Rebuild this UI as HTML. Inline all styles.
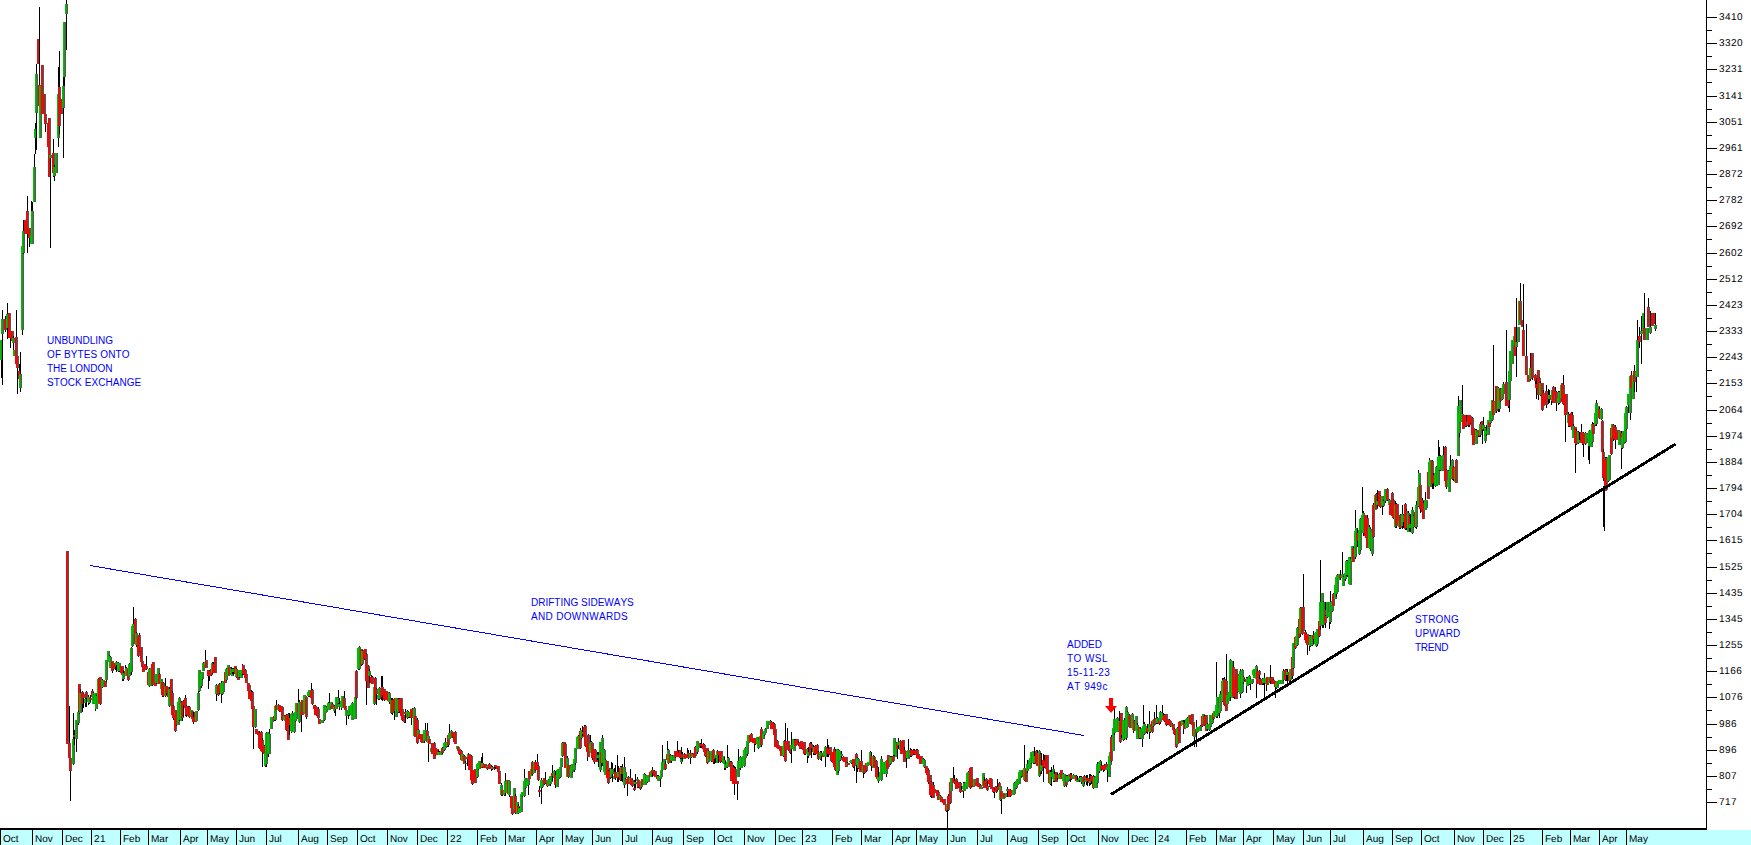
<!DOCTYPE html>
<html><head><meta charset="utf-8"><title>Chart</title>
<style>
html,body{margin:0;padding:0;background:#fff;overflow:hidden}
svg{display:block}
text{font-family:"Liberation Sans",sans-serif;font-size:10px}
.ax text{fill:#000;text-rendering:geometricPrecision}
.lb text{fill:#00f;font-kerning:none}
</style></head><body>
<svg width="1751" height="845" viewBox="0 0 1751 845">
<rect width="1751" height="845" fill="#fff"/>
<rect x="0" y="830" width="1751" height="15" fill="#c0ffff"/>
<g shape-rendering="crispEdges" fill="none" stroke-width="1">
<path stroke="#000" d="M1.5 360v18M2.5 310v9M2.5 334v51M5.5 316v3M5.5 330v2M7.5 303v11M7.5 328v11M10.5 338v10M13.5 336v2M13.5 343v7M16.5 310v27M17.5 368v26M19.5 364v7M20.5 352v22M20.5 388v4M22.5 330v5M23.5 220v11M23.5 253v1M27.5 196v15M27.5 234v19M29.5 238v9M31.5 201v10M32.5 202v9M34.5 154v13M35.5 123v6M35.5 138v16M36.5 64v10M36.5 113v37M39.5 7v78M45.5 124v8M50.5 158v90M53.5 139v14M53.5 176v1M54.5 165v2M54.5 176v5M58.5 67v20M58.5 138v9M59.5 51v36M59.5 126v8M63.5 77v9M63.5 108v50M64.5 77v9M66.5 0v4M66.5 14v36M69.5 706v37M70.5 771v30M73.5 713v22M73.5 737v2M73.5 764v1M74.5 730v5M74.5 737v8M76.5 739v13M78.5 711v1M78.5 723v2M79.5 713v1M80.5 689v4M82.5 691v1M82.5 704v8M83.5 693v1M83.5 698v10M85.5 698v1M85.5 703v4M86.5 691v1M86.5 698v9M88.5 695v2M88.5 703v2M89.5 703v1M90.5 695v3M90.5 700v2M92.5 689v2M93.5 692v1M95.5 709v2M96.5 695v1M98.5 678v1M100.5 704v1M102.5 679v1M102.5 687v1M106.5 680v2M109.5 655v1M110.5 656v1M112.5 671v2M113.5 669v1M115.5 667v3M116.5 661v1M116.5 665v7M118.5 662v1M118.5 671v1M119.5 671v1M122.5 679v2M123.5 670v3M123.5 679v2M125.5 665v3M126.5 667v1M128.5 680v1M129.5 663v1M131.5 647v1M131.5 672v3M132.5 646v1M133.5 607v17M135.5 618v1M136.5 632v1M136.5 645v2M138.5 656v1M139.5 633v2M139.5 651v1M146.5 656v10M146.5 669v1M149.5 668v1M149.5 686v1M152.5 685v1M156.5 683v1M159.5 673v1M162.5 696v1M163.5 682v1M163.5 696v1M165.5 678v8M165.5 696v1M166.5 693v2M169.5 687v2M169.5 706v1M172.5 691v2M173.5 705v1M173.5 718v2M175.5 731v1M176.5 725v1M179.5 697v1M179.5 720v1M181.5 701v1M182.5 718v3M183.5 700v1M183.5 705v12M185.5 695v3M185.5 715v1M186.5 705v1M186.5 715v2M188.5 706v1M189.5 706v1M189.5 717v1M193.5 712v5M193.5 722v2M198.5 691v2M198.5 710v1M199.5 691v1M201.5 686v2M202.5 679v1M203.5 662v1M205.5 650v10M208.5 676v13M209.5 670v1M209.5 676v5M211.5 675v1M212.5 662v1M212.5 673v1M213.5 662v2M216.5 684v1M216.5 694v7M218.5 695v1M219.5 683v1M219.5 693v1M221.5 681v2M221.5 694v9M222.5 694v1M226.5 668v1M226.5 680v1M231.5 667v2M232.5 668v1M232.5 672v2M233.5 668v1M233.5 672v3M236.5 668v1M236.5 677v1M239.5 677v1M242.5 664v1M242.5 674v1M243.5 674v1M245.5 669v1M251.5 690v2M252.5 691v1M253.5 727v22M255.5 727v1M259.5 731v2M259.5 748v1M261.5 731v1M262.5 738v2M262.5 752v15M264.5 745v1M265.5 766v1M266.5 732v1M266.5 764v3M268.5 754v3M269.5 729v5M274.5 720v1M275.5 720v1M276.5 700v5M278.5 704v1M279.5 711v1M282.5 720v1M284.5 715v1M286.5 714v1M286.5 730v1M288.5 713v1M289.5 713v5M289.5 725v10M291.5 732v1M292.5 711v2M294.5 732v1M295.5 721v1M298.5 689v13M299.5 700v2M299.5 722v1M301.5 715v17M306.5 717v2M308.5 696v1M309.5 696v1M311.5 683v7M312.5 689v1M312.5 704v1M315.5 705v1M316.5 715v1M318.5 707v2M318.5 718v1M324.5 720v1M326.5 706v1M328.5 702v1M329.5 693v10M332.5 703v1M334.5 705v1M334.5 711v2M335.5 709v7M338.5 690v8M338.5 703v1M339.5 698v6M339.5 707v3M341.5 708v2M344.5 691v7M346.5 716v9M348.5 715v4M349.5 715v1M352.5 702v1M356.5 670v1M356.5 698v1M358.5 669v1M359.5 646v1M359.5 669v1M361.5 665v1M362.5 650v1M362.5 664v1M364.5 659v1M366.5 653v1M366.5 681v24M368.5 665v1M369.5 669v2M369.5 676v7M371.5 675v2M372.5 676v1M374.5 704v1M375.5 677v1M376.5 688v1M376.5 694v11M378.5 699v1M379.5 687v1M379.5 699v1M381.5 676v11M381.5 697v3M382.5 676v11M382.5 695v6M384.5 700v1M389.5 692v1M389.5 702v2M391.5 698v2M391.5 713v1M392.5 698v2M392.5 713v2M394.5 711v9M398.5 698v1M398.5 712v1M399.5 698v1M399.5 711v2M402.5 720v1M404.5 722v1M405.5 709v3M405.5 714v9M407.5 710v1M407.5 718v1M408.5 711v1M408.5 717v1M409.5 717v1M411.5 718v7M412.5 708v1M414.5 707v1M417.5 718v2M417.5 743v1M418.5 729v1M419.5 738v1M424.5 741v2M425.5 723v7M427.5 723v8M428.5 744v18M434.5 742v1M435.5 755v1M438.5 750v2M439.5 751v1M442.5 747v1M442.5 753v1M444.5 750v1M445.5 738v4M447.5 746v1M448.5 745v2M449.5 724v9M451.5 730v1M452.5 737v1M455.5 731v1M459.5 754v1M461.5 750v1M464.5 755v1M465.5 761v2M465.5 764v6M467.5 759v7M468.5 753v1M471.5 755v1M472.5 784v1M477.5 777v1M478.5 769v1M481.5 757v6M482.5 753v10M482.5 767v1M487.5 769v1M489.5 763v1M491.5 765v1M491.5 769v2M492.5 766v1M492.5 769v1M494.5 767v1M494.5 769v1M495.5 767v2M501.5 783v2M501.5 795v1M502.5 795v1M504.5 795v1M505.5 773v8M505.5 793v3M509.5 795v2M512.5 814v1M515.5 794v2M515.5 813v1M518.5 804v2M518.5 813v1M519.5 807v1M522.5 796v1M524.5 769v9M524.5 796v1M525.5 788v1M528.5 785v10M532.5 761v1M532.5 774v1M535.5 760v2M535.5 770v1M537.5 754v8M538.5 765v1M538.5 780v1M539.5 786v4M539.5 792v5M541.5 778v2M541.5 788v16M542.5 787v1M544.5 784v1M545.5 772v8M545.5 783v1M547.5 786v1M548.5 779v1M550.5 784v2M552.5 765v8M552.5 776v5M554.5 770v1M555.5 771v4M555.5 785v3M560.5 777v1M562.5 742v1M562.5 756v1M565.5 743v1M567.5 756v2M568.5 777v1M570.5 765v1M572.5 772v1M574.5 770v2M575.5 763v2M578.5 735v1M580.5 728v2M580.5 748v1M581.5 738v1M582.5 726v6M582.5 734v2M584.5 725v1M585.5 725v1M585.5 746v1M587.5 757v4M588.5 734v1M590.5 735v7M591.5 741v1M592.5 758v2M594.5 762v2M595.5 749v1M597.5 752v3M597.5 758v2M598.5 752v3M598.5 758v9M600.5 770v2M601.5 763v4M602.5 735v3M602.5 763v3M604.5 749v1M605.5 759v1M608.5 770v1M608.5 783v1M610.5 778v1M611.5 762v7M611.5 777v1M612.5 763v6M612.5 774v8M614.5 768v4M615.5 765v7M615.5 778v2M617.5 755v17M617.5 778v4M618.5 766v6M618.5 777v5M620.5 766v1M620.5 780v1M621.5 766v1M621.5 774v7M622.5 764v3M622.5 774v8M624.5 757v10M624.5 785v3M625.5 778v1M627.5 784v12M628.5 776v1M630.5 769v9M632.5 779v1M632.5 786v1M634.5 780v2M634.5 784v4M634.5 790v1M635.5 774v8M635.5 784v4M637.5 777v2M637.5 787v1M638.5 787v1M640.5 789v1M641.5 787v1M644.5 773v1M645.5 774v1M647.5 782v1M652.5 767v3M652.5 773v4M654.5 770v1M657.5 775v1M658.5 775v1M660.5 779v8M662.5 745v17M665.5 761v3M665.5 769v1M667.5 741v9M668.5 749v1M668.5 763v1M670.5 754v1M671.5 761v2M672.5 755v1M675.5 757v1M677.5 741v10M678.5 750v3M680.5 758v1M681.5 747v7M681.5 758v1M681.5 762v2M682.5 752v2M682.5 758v3M684.5 753v1M687.5 748v5M688.5 750v3M688.5 758v1M690.5 750v3M690.5 758v6M691.5 757v1M692.5 753v1M695.5 746v1M697.5 752v2M700.5 743v1M700.5 746v2M701.5 739v5M701.5 746v2M703.5 743v1M704.5 744v1M705.5 756v1M707.5 763v1M708.5 750v1M711.5 761v1M713.5 749v1M713.5 762v2M714.5 759v5M715.5 758v5M717.5 750v1M718.5 755v8M720.5 762v1M721.5 761v1M724.5 757v3M724.5 768v2M725.5 761v3M725.5 768v2M727.5 745v13M727.5 767v1M728.5 757v1M730.5 761v1M731.5 761v1M733.5 765v2M734.5 766v2M734.5 784v11M735.5 767v2M737.5 784v16M738.5 749v12M740.5 756v1M740.5 768v2M744.5 766v1M745.5 747v1M747.5 754v2M751.5 733v1M754.5 744v8M755.5 744v1M758.5 738v1M758.5 748v1M761.5 727v2M761.5 745v2M764.5 735v1M765.5 728v1M770.5 720v1M771.5 721v1M773.5 722v1M774.5 723v1M777.5 740v1M783.5 756v1M784.5 740v1M785.5 723v18M785.5 761v1M787.5 728v13M788.5 750v1M790.5 753v1M791.5 732v13M791.5 749v14M794.5 739v1M795.5 739v1M798.5 741v2M798.5 745v1M801.5 748v1M804.5 754v1M805.5 754v1M807.5 748v1M807.5 756v7M808.5 747v5M808.5 756v2M810.5 742v1M811.5 742v2M811.5 748v10M813.5 745v2M813.5 753v2M814.5 754v1M815.5 745v1M815.5 754v1M817.5 744v1M818.5 751v1M818.5 759v1M820.5 751v1M820.5 759v1M821.5 751v2M821.5 756v5M825.5 746v1M825.5 757v10M827.5 739v9M827.5 754v3M828.5 745v4M828.5 754v3M831.5 761v1M834.5 747v2M835.5 749v2M835.5 770v1M838.5 749v1M838.5 771v2M840.5 760v1M841.5 751v3M841.5 756v2M843.5 756v1M847.5 762v1M851.5 763v1M853.5 767v1M854.5 766v5M856.5 753v1M856.5 765v18M857.5 757v1M857.5 768v4M858.5 758v1M858.5 768v1M861.5 750v11M863.5 773v5M864.5 773v1M866.5 771v1M870.5 751v1M871.5 752v4M871.5 766v5M873.5 755v1M874.5 756v1M876.5 760v1M877.5 766v1M878.5 767v10M878.5 781v2M881.5 756v3M881.5 780v1M886.5 774v3M890.5 756v1M890.5 764v1M891.5 756v1M893.5 755v1M893.5 761v1M894.5 755v1M896.5 742v1M897.5 749v10M898.5 738v4M898.5 745v4M900.5 740v1M904.5 747v3M906.5 758v10M908.5 739v11M910.5 748v2M910.5 756v1M911.5 749v1M911.5 756v1M913.5 749v1M913.5 754v1M914.5 749v2M914.5 754v1M916.5 749v1M917.5 749v1M923.5 758v1M924.5 759v1M924.5 767v1M928.5 769v1M928.5 782v2M930.5 796v1M931.5 781v1M931.5 796v2M933.5 782v3M938.5 791v1M940.5 795v1M946.5 811v1M947.5 810v18M948.5 794v2M948.5 810v1M950.5 803v1M953.5 767v11M954.5 775v6M954.5 783v1M956.5 778v1M957.5 781v1M958.5 787v1M960.5 782v1M960.5 792v1M961.5 786v4M963.5 782v1M963.5 791v7M964.5 782v1M968.5 771v1M970.5 788v1M971.5 786v1M980.5 784v1M984.5 777v4M986.5 778v1M987.5 781v5M987.5 790v1M989.5 786v1M993.5 792v1M994.5 788v2M994.5 792v6M996.5 792v1M997.5 779v8M997.5 790v1M999.5 782v1M1000.5 800v1M1001.5 799v15M1007.5 787v2M1007.5 791v6M1010.5 789v1M1010.5 796v1M1014.5 782v1M1016.5 788v1M1021.5 776v1M1024.5 745v23M1024.5 780v1M1027.5 760v4M1027.5 771v2M1031.5 763v1M1033.5 763v1M1034.5 747v9M1034.5 763v1M1036.5 750v1M1037.5 750v3M1039.5 750v1M1039.5 776v1M1040.5 753v1M1040.5 773v1M1041.5 753v12M1041.5 771v3M1043.5 754v6M1043.5 767v15M1044.5 755v6M1044.5 767v1M1050.5 770v2M1050.5 784v1M1051.5 767v5M1051.5 777v9M1053.5 765v4M1053.5 781v1M1054.5 771v3M1054.5 781v1M1057.5 773v2M1057.5 778v2M1059.5 773v1M1063.5 773v1M1064.5 786v1M1066.5 775v1M1066.5 785v2M1067.5 775v1M1069.5 780v1M1070.5 773v1M1070.5 779v3M1071.5 773v2M1071.5 779v1M1073.5 774v1M1076.5 775v1M1077.5 776v4M1079.5 776v2M1079.5 780v2M1080.5 776v1M1081.5 776v1M1081.5 782v2M1083.5 786v1M1084.5 775v1M1084.5 782v2M1086.5 775v3M1086.5 782v3M1087.5 775v3M1087.5 781v5M1089.5 774v5M1089.5 783v3M1090.5 774v2M1090.5 783v2M1091.5 775v1M1091.5 781v3M1093.5 775v1M1093.5 788v1M1094.5 776v1M1097.5 762v2M1097.5 783v1M1099.5 771v2M1100.5 760v1M1101.5 762v4M1101.5 769v1M1103.5 770v2M1104.5 764v1M1104.5 770v1M1106.5 762v2M1107.5 770v12M1111.5 735v2M1111.5 761v1M1114.5 707v12M1114.5 733v2M1117.5 717v1M1119.5 711v10M1120.5 742v1M1121.5 735v3M1123.5 740v1M1124.5 718v2M1124.5 739v1M1126.5 706v1M1126.5 738v2M1127.5 711v1M1129.5 714v1M1132.5 713v1M1133.5 731v2M1134.5 720v1M1137.5 723v2M1139.5 738v1M1140.5 727v2M1140.5 738v1M1142.5 739v8M1143.5 705v19M1144.5 722v2M1144.5 734v1M1146.5 732v1M1147.5 724v4M1147.5 732v2M1149.5 711v13M1149.5 732v7M1150.5 732v1M1152.5 732v1M1153.5 726v1M1154.5 712v7M1156.5 705v13M1156.5 723v1M1157.5 717v1M1157.5 723v1M1159.5 724v1M1160.5 711v1M1160.5 722v2M1162.5 705v8M1163.5 713v2M1164.5 714v1M1164.5 721v1M1166.5 725v1M1167.5 724v1M1169.5 719v1M1170.5 726v1M1172.5 723v1M1174.5 728v1M1174.5 734v1M1176.5 747v1M1177.5 727v1M1183.5 720v2M1183.5 729v5M1184.5 720v3M1187.5 717v1M1190.5 723v1M1194.5 737v10M1196.5 720v7M1196.5 733v14M1200.5 725v1M1202.5 726v1M1204.5 715v1M1204.5 725v1M1207.5 723v1M1207.5 729v2M1209.5 730v1M1212.5 723v1M1213.5 719v1M1216.5 662v35M1216.5 717v1M1217.5 716v2M1219.5 713v5M1220.5 691v3M1222.5 678v2M1222.5 701v1M1223.5 678v1M1224.5 677v2M1224.5 705v1M1226.5 654v27M1230.5 659v1M1230.5 697v4M1233.5 661v6M1233.5 697v1M1234.5 697v2M1237.5 692v1M1240.5 669v2M1240.5 694v4M1242.5 669v1M1242.5 692v1M1243.5 676v1M1243.5 682v2M1244.5 678v1M1244.5 680v1M1246.5 677v1M1246.5 686v7M1247.5 677v1M1249.5 675v1M1249.5 684v1M1250.5 678v1M1250.5 684v6M1252.5 683v1M1256.5 665v1M1256.5 684v14M1257.5 669v2M1259.5 670v1M1259.5 675v4M1260.5 678v1M1262.5 678v1M1262.5 684v1M1263.5 683v2M1264.5 673v5M1264.5 683v16M1266.5 685v6M1270.5 665v13M1270.5 681v3M1273.5 679v1M1275.5 687v11M1276.5 688v1M1283.5 669v2M1283.5 680v1M1285.5 669v1M1285.5 680v1M1286.5 669v1M1286.5 675v6M1287.5 669v3M1287.5 675v9M1289.5 681v1M1290.5 680v1M1292.5 676v3M1293.5 668v1M1295.5 648v1M1297.5 627v1M1297.5 645v1M1299.5 637v1M1300.5 607v1M1300.5 634v3M1302.5 634v1M1303.5 574v33M1305.5 630v2M1306.5 633v1M1307.5 645v10M1309.5 635v1M1309.5 646v5M1310.5 635v1M1310.5 646v1M1312.5 645v1M1313.5 631v4M1313.5 639v5M1316.5 646v1M1317.5 644v2M1319.5 636v1M1320.5 560v42M1320.5 626v4M1322.5 625v3M1323.5 601v1M1323.5 625v3M1325.5 602v8M1325.5 615v1M1325.5 623v5M1327.5 617v1M1329.5 622v7M1330.5 591v11M1330.5 622v2M1332.5 611v1M1333.5 593v1M1336.5 594v3M1337.5 574v1M1340.5 570v5M1340.5 578v2M1342.5 552v22M1343.5 576v1M1345.5 579v2M1346.5 560v1M1346.5 575v1M1347.5 560v1M1347.5 575v2M1350.5 557v2M1353.5 547v1M1355.5 510v18M1355.5 557v2M1357.5 528v5M1357.5 541v6M1359.5 554v1M1360.5 518v1M1360.5 550v1M1362.5 487v26M1363.5 511v2M1363.5 533v3M1367.5 515v3M1369.5 525v2M1370.5 528v1M1370.5 549v2M1372.5 554v2M1373.5 503v2M1373.5 537v1M1376.5 493v1M1377.5 490v11M1377.5 505v3M1380.5 495v1M1380.5 507v1M1382.5 506v9M1383.5 500v1M1383.5 506v1M1385.5 501v2M1387.5 488v1M1387.5 500v1M1389.5 499v1M1392.5 492v1M1393.5 499v1M1393.5 518v1M1395.5 501v3M1395.5 527v1M1396.5 503v1M1396.5 526v2M1399.5 528v1M1400.5 514v1M1400.5 528v1M1402.5 505v9M1402.5 526v3M1403.5 514v1M1403.5 522v6M1405.5 503v1M1405.5 529v1M1406.5 509v2M1406.5 528v2M1408.5 511v2M1409.5 515v1M1409.5 528v3M1410.5 514v10M1410.5 528v4M1412.5 507v3M1412.5 533v1M1413.5 515v1M1413.5 527v1M1415.5 527v1M1416.5 501v4M1416.5 527v2M1418.5 470v3M1418.5 506v1M1420.5 509v4M1422.5 498v2M1423.5 501v2M1425.5 492v8M1429.5 458v2M1432.5 460v1M1432.5 484v5M1433.5 473v2M1433.5 483v6M1435.5 486v1M1436.5 466v1M1438.5 440v16M1439.5 447v9M1439.5 470v1M1440.5 455v1M1440.5 470v1M1443.5 446v9M1445.5 446v1M1446.5 469v1M1446.5 487v2M1448.5 470v1M1450.5 455v11M1452.5 459v1M1452.5 479v1M1453.5 466v1M1453.5 479v2M1456.5 459v1M1458.5 396v10M1459.5 433v4M1462.5 385v29M1465.5 426v1M1466.5 415v6M1466.5 426v1M1468.5 425v2M1469.5 425v2M1470.5 423v1M1472.5 417v1M1475.5 429v1M1476.5 429v1M1478.5 436v1M1479.5 436v1M1480.5 422v2M1480.5 435v2M1482.5 430v14M1483.5 417v8M1483.5 429v2M1485.5 427v1M1485.5 441v2M1486.5 425v6M1486.5 434v2M1490.5 423v1M1492.5 420v1M1493.5 345v56M1496.5 411v2M1498.5 387v1M1498.5 409v3M1499.5 409v3M1500.5 388v1M1500.5 401v1M1502.5 399v1M1503.5 382v2M1506.5 330v52M1508.5 406v2M1509.5 400v12M1516.5 298v44M1516.5 347v30M1520.5 283v18M1523.5 284v46M1526.5 324v32M1530.5 353v15M1530.5 379v2M1532.5 378v2M1535.5 374v1M1535.5 381v3M1536.5 378v6M1536.5 388v11M1538.5 395v5M1539.5 377v1M1540.5 381v2M1540.5 395v1M1542.5 410v1M1543.5 390v3M1546.5 385v6M1546.5 405v3M1548.5 389v6M1548.5 399v5M1549.5 390v5M1549.5 399v4M1551.5 401v4M1553.5 386v1M1555.5 387v4M1556.5 391v1M1556.5 403v8M1558.5 391v1M1558.5 403v2M1559.5 391v1M1559.5 403v1M1563.5 375v10M1563.5 404v1M1565.5 415v27M1568.5 412v2M1568.5 426v1M1569.5 414v1M1569.5 426v1M1571.5 412v1M1572.5 412v3M1573.5 424v2M1575.5 444v29M1576.5 429v2M1576.5 444v1M1578.5 431v1M1578.5 443v1M1579.5 432v8M1581.5 424v8M1582.5 444v1M1583.5 432v1M1583.5 444v13M1585.5 432v1M1585.5 444v1M1588.5 446v14M1589.5 430v1M1589.5 446v18M1592.5 422v2M1592.5 442v1M1593.5 423v1M1595.5 425v1M1596.5 400v3M1596.5 424v2M1599.5 407v2M1599.5 418v1M1601.5 408v1M1601.5 419v1M1602.5 420v1M1603.5 449v3M1603.5 478v3M1603.5 486v41M1604.5 486v45M1605.5 457v1M1606.5 457v1M1608.5 481v1M1611.5 454v1M1613.5 424v1M1613.5 439v2M1615.5 425v2M1615.5 440v9M1621.5 431v2M1621.5 448v21M1622.5 448v1M1625.5 442v1M1626.5 406v1M1626.5 429v1M1628.5 405v8M1630.5 413v7M1631.5 371v4M1634.5 365v6M1634.5 382v10M1636.5 377v15M1637.5 320v20M1639.5 327v9M1639.5 342v6M1641.5 316v15M1641.5 334v30M1644.5 293v35M1648.5 298v9M1650.5 311v16M1650.5 333v1M1655.5 313v12M1655.5 329v2"/>
<path stroke="#f00" d="M4.5 319v11M8.5 313v25M9.5 331v7M11.5 331v10M15.5 337v27M16.5 356v12M18.5 371v8M24.5 220v14M26.5 211v23M28.5 228v10M37.5 39v25M38.5 85v21M41.5 65v49M43.5 94v20M44.5 114v10M47.5 123v24M48.5 118v59M52.5 153v20M58.5 87v39M60.5 99v15M66.5 551v193M68.5 743v15M69.5 758v13M73.5 735v2M78.5 684v27M81.5 692v12M82.5 694v4M85.5 692v6M89.5 698v2M91.5 691v6M98.5 679v24M99.5 677v27M104.5 681v6M111.5 661v10M112.5 663v6M114.5 663v4M120.5 666v7M121.5 666v9M124.5 671v3M127.5 669v11M134.5 619v25M137.5 637v19M138.5 635v16M140.5 647v15M141.5 661v6M142.5 666v6M144.5 664v6M145.5 666v3M147.5 672v13M151.5 664v21M152.5 662v21M154.5 681v5M158.5 674v10M161.5 682v13M162.5 683v13M165.5 686v7M167.5 687v10M170.5 679v23M171.5 693v22M172.5 706v12M174.5 715v16M175.5 710v15M181.5 702v16M182.5 701v4M184.5 698v10M185.5 706v9M187.5 707v9M188.5 707v10M191.5 711v8M192.5 717v5M194.5 712v10M205.5 660v8M207.5 670v6M208.5 671v5M210.5 669v6M212.5 664v9M214.5 657v16M217.5 686v9M218.5 684v9M224.5 672v11M228.5 667v8M234.5 666v8M237.5 670v10M242.5 665v9M244.5 670v8M245.5 674v9M247.5 683v8M248.5 685v14M250.5 692v9M251.5 692v17M252.5 706v21M255.5 729v5M257.5 731v4M258.5 733v15M260.5 732v19M261.5 740v12M263.5 746v8M273.5 716v4M275.5 705v5M278.5 705v6M280.5 706v6M281.5 707v13M285.5 715v15M287.5 714v26M288.5 718v7M297.5 703v9M300.5 712v3M301.5 700v15M305.5 697v20M310.5 691v7M311.5 690v14M313.5 705v4M314.5 706v9M315.5 707v8M317.5 709v9M318.5 719v5M331.5 704v5M334.5 706v3M343.5 698v9M344.5 706v4M355.5 671v27M360.5 649v16M363.5 650v9M364.5 649v7M365.5 654v27M367.5 666v22M370.5 677v6M371.5 677v7M374.5 678v24M375.5 689v5M380.5 693v4M381.5 687v8M383.5 689v11M384.5 692v8M385.5 691v9M387.5 692v9M391.5 700v13M393.5 699v12M394.5 698v7M398.5 699v12M400.5 698v18M401.5 709v11M403.5 715v7M404.5 712v2M407.5 714v2M410.5 709v9M411.5 709v9M414.5 716v21M416.5 720v23M418.5 734v4M420.5 735v7M421.5 734v9M426.5 731v11M428.5 739v5M431.5 743v11M433.5 743v16M434.5 748v7M436.5 749v6M441.5 748v5M447.5 735v10M451.5 732v5M453.5 733v9M454.5 732v12M457.5 747v4M458.5 749v5M460.5 751v9M463.5 756v8M466.5 757v2M468.5 754v16M470.5 756v24M471.5 770v14M473.5 770v11M474.5 769v14M480.5 764v4M483.5 764v4M484.5 764v4M486.5 767v2M488.5 764v5M490.5 766v3M493.5 768v1M494.5 765v2M496.5 766v3M497.5 766v6M498.5 771v13M501.5 790v5M507.5 780v14M510.5 796v12M511.5 797v17M514.5 796v17M517.5 806v6M528.5 771v8M531.5 762v12M534.5 762v8M536.5 762v8M537.5 766v14M538.5 790v2M543.5 778v6M544.5 780v3M546.5 783v3M551.5 773v3M554.5 775v10M563.5 742v13M564.5 744v24M567.5 765v12M569.5 766v3M579.5 731v17M583.5 727v10M584.5 726v20M586.5 744v8M587.5 735v22M591.5 743v15M593.5 749v13M594.5 750v11M596.5 760v2M600.5 752v11M606.5 761v17M607.5 771v12M609.5 768v10M614.5 772v6M616.5 775v3M619.5 768v12M621.5 767v7M626.5 779v5M627.5 777v7M630.5 778v7M631.5 780v6M633.5 788v2M637.5 780v7M639.5 784v5M641.5 779v6M649.5 772v5M651.5 770v3M653.5 771v5M654.5 771v6M656.5 776v3M664.5 764v5M666.5 754v6M669.5 755v8M674.5 751v6M676.5 751v6M677.5 753v4M679.5 750v8M681.5 754v4M684.5 754v4M686.5 756v2M687.5 753v5M690.5 753v4M693.5 753v5M694.5 747v9M699.5 744v2M700.5 744v2M702.5 744v5M703.5 745v7M704.5 749v7M706.5 748v15M709.5 753v5M712.5 750v12M713.5 756v3M717.5 751v4M719.5 752v10M720.5 751v10M729.5 762v4M730.5 762v19M732.5 767v17M733.5 768v15M734.5 769v15M736.5 781v3M749.5 735v7M750.5 734v8M752.5 738v5M753.5 738v5M754.5 738v6M760.5 729v16M770.5 722v7M772.5 723v6M773.5 724v11M774.5 729v18M776.5 741v7M777.5 745v4M779.5 746v5M780.5 747v9M784.5 741v20M786.5 741v3M787.5 741v9M789.5 745v8M794.5 740v6M796.5 739v4M797.5 743v2M799.5 742v7M800.5 741v7M802.5 743v7M803.5 742v12M804.5 749v5M809.5 743v12M810.5 744v4M812.5 748v4M814.5 746v8M816.5 745v9M817.5 752v7M822.5 754v3M826.5 748v5M827.5 749v5M829.5 747v8M830.5 753v8M832.5 752v11M833.5 749v18M834.5 751v19M842.5 757v4M843.5 757v5M845.5 757v10M847.5 763v2M852.5 759v8M853.5 760v6M855.5 754v6M859.5 762v10M860.5 761v8M863.5 765v8M865.5 763v8M870.5 756v10M873.5 757v10M875.5 761v16M876.5 767v12M886.5 760v9M887.5 755v12M892.5 756v5M896.5 744v5M900.5 741v13M902.5 740v11M903.5 750v12M905.5 751v7M910.5 750v6M912.5 750v4M913.5 751v3M915.5 750v5M916.5 750v8M917.5 754v5M919.5 756v8M920.5 756v7M925.5 766v7M926.5 768v7M927.5 770v12M929.5 775v20M930.5 782v14M932.5 785v13M933.5 789v4M935.5 790v3M936.5 790v6M937.5 792v8M940.5 797v5M942.5 799v4M943.5 799v6M945.5 805v6M947.5 796v14M949.5 782v21M952.5 778v4M953.5 781v2M955.5 779v10M956.5 782v5M957.5 782v5M959.5 783v9M960.5 790v2M969.5 768v20M970.5 767v19M972.5 779v8M975.5 783v2M976.5 778v8M977.5 783v4M979.5 785v4M983.5 781v7M985.5 779v8M986.5 786v4M988.5 780v4M989.5 778v8M990.5 779v10M992.5 787v5M993.5 790v2M995.5 786v6M996.5 787v3M998.5 783v7M1000.5 791v8M1003.5 793v5M1008.5 789v8M1009.5 791v5M1010.5 790v5M1022.5 770v7M1025.5 769v13M1035.5 751v13M1036.5 753v13M1039.5 754v19M1042.5 760v6M1043.5 761v6M1045.5 755v14M1046.5 755v19M1048.5 770v13M1055.5 772v10M1056.5 775v3M1060.5 770v9M1065.5 782v3M1069.5 774v3M1070.5 775v4M1075.5 776v5M1083.5 776v6M1086.5 778v3M1088.5 779v4M1090.5 776v5M1092.5 776v12M1100.5 766v3M1102.5 765v5M1103.5 765v5M1105.5 764v5M1110.5 737v24M1119.5 722v20M1120.5 713v22M1128.5 717v2M1129.5 715v13M1133.5 721v10M1138.5 727v11M1146.5 728v4M1151.5 721v11M1153.5 719v6M1155.5 718v1M1158.5 720v4M1162.5 718v2M1163.5 715v6M1165.5 714v11M1166.5 719v5M1168.5 720v5M1169.5 721v5M1172.5 724v6M1173.5 729v5M1175.5 729v18M1178.5 722v21M1179.5 721v5M1183.5 723v6M1189.5 715v8M1191.5 714v11M1192.5 722v14M1195.5 730v3M1201.5 716v10M1203.5 716v9M1205.5 715v16M1212.5 713v6M1223.5 679v26M1225.5 681v30M1232.5 667v29M1233.5 679v18M1235.5 669v30M1236.5 674v18M1243.5 679v1M1245.5 679v3M1256.5 671v13M1258.5 671v4M1259.5 679v6M1261.5 679v5M1266.5 677v8M1269.5 678v3M1271.5 677v7M1272.5 680v4M1274.5 681v6M1284.5 670v10M1285.5 670v2M1288.5 672v9M1291.5 657v19M1294.5 637v11M1298.5 619v18M1301.5 607v27M1302.5 607v24M1304.5 632v8M1305.5 634v9M1306.5 634v11M1308.5 637v6M1312.5 635v4M1318.5 621v15M1324.5 616v7M1325.5 610v5M1332.5 594v12M1339.5 575v3M1352.5 548v14M1356.5 533v8M1364.5 515v21M1365.5 517v21M1366.5 518v30M1372.5 505v32M1375.5 494v15M1378.5 491v15M1379.5 496v11M1386.5 489v11M1389.5 503v12M1391.5 493v23M1392.5 500v18M1395.5 504v22M1396.5 504v20M1399.5 515v13M1404.5 504v25M1405.5 511v17M1408.5 516v9M1414.5 512v15M1419.5 485v24M1421.5 500v12M1422.5 503v16M1427.5 472v27M1431.5 461v23M1432.5 475v8M1444.5 447v34M1445.5 470v17M1452.5 467v12M1455.5 460v23M1462.5 415v14M1464.5 415v11M1465.5 421v5M1467.5 415v6M1468.5 415v10M1469.5 416v7M1471.5 418v17M1472.5 428v17M1474.5 430v12M1478.5 430v6M1481.5 421v9M1488.5 422v5M1492.5 401v14M1495.5 386v25M1499.5 389v12M1505.5 382v24M1507.5 400v6M1514.5 327v29M1519.5 301v19M1521.5 320v7M1522.5 330v26M1525.5 356v19M1527.5 375v7M1531.5 353v25M1534.5 375v6M1535.5 384v4M1537.5 370v25M1538.5 378v10M1541.5 383v27M1542.5 393v13M1544.5 396v7M1545.5 391v14M1547.5 395v4M1550.5 396v4M1552.5 387v16M1554.5 391v4M1555.5 392v11M1561.5 383v19M1562.5 385v19M1564.5 394v21M1565.5 394v21M1568.5 415v11M1570.5 413v14M1571.5 415v15M1574.5 427v16M1575.5 431v13M1580.5 432v10M1581.5 439v4M1582.5 433v11M1584.5 433v11M1592.5 424v10M1598.5 409v9M1601.5 421v31M1602.5 452v26M1604.5 460v26M1605.5 458v32M1610.5 428v26M1612.5 425v14M1614.5 427v13M1615.5 432v6M1617.5 430v10M1620.5 433v5M1630.5 375v13M1633.5 371v11M1638.5 336v6M1643.5 328v12M1647.5 307v20M1651.5 313v13M1653.5 313v11"/>
<path stroke="#00c000" d="M0.5 340v20M1.5 319v15M6.5 314v14M12.5 338v5M13.5 350v6M19.5 374v14M21.5 246v84M22.5 231v22M30.5 236v8M31.5 211v33M33.5 167v35M34.5 129v9M35.5 74v39M39.5 86v52M49.5 155v3M53.5 167v9M55.5 153v20M57.5 94v44M62.5 86v22M63.5 22v55M65.5 4v10M72.5 739v25M75.5 720v19M77.5 712v11M79.5 693v20M84.5 699v4M87.5 697v5M88.5 697v6M92.5 693v11M94.5 693v10M95.5 696v13M97.5 679v25M101.5 680v7M102.5 680v7M105.5 660v20M107.5 651v10M108.5 656v6M109.5 657v11M115.5 662v3M117.5 663v8M118.5 663v8M122.5 673v6M125.5 668v8M128.5 664v12M130.5 648v24M131.5 626v20M132.5 624v10M135.5 633v12M148.5 669v17M150.5 668v18M155.5 674v9M157.5 668v16M160.5 679v10M164.5 687v9M168.5 689v17M177.5 702v23M178.5 698v22M180.5 703v18M190.5 710v7M195.5 711v10M197.5 693v17M198.5 670v21M200.5 673v13M201.5 672v7M202.5 663v8M204.5 662v3M211.5 663v10M215.5 685v9M220.5 683v11M221.5 683v11M222.5 681v11M225.5 669v11M227.5 665v11M230.5 669v5M231.5 674v2M232.5 669v3M235.5 669v8M238.5 670v7M240.5 670v8M241.5 671v3M254.5 709v18M264.5 753v13M265.5 733v31M267.5 732v21M268.5 734v20M270.5 717v12M271.5 717v5M274.5 706v14M277.5 705v5M283.5 716v4M284.5 717v4M290.5 714v17M291.5 713v19M293.5 716v16M294.5 712v9M295.5 703v16M298.5 702v20M303.5 695v17M304.5 696v18M307.5 692v4M308.5 690v6M320.5 721v1M321.5 720v3M323.5 705v15M324.5 709v4M325.5 707v5M327.5 703v6M328.5 703v7M330.5 702v4M333.5 707v4M335.5 697v12M337.5 698v5M338.5 704v3M340.5 701v6M341.5 696v12M345.5 710v6M347.5 713v2M348.5 706v9M350.5 705v9M351.5 703v17M353.5 703v15M354.5 697v22M357.5 648v21M358.5 647v22M361.5 651v13M368.5 671v5M373.5 687v17M377.5 695v4M378.5 688v11M388.5 693v9M390.5 700v13M395.5 698v19M397.5 700v12M406.5 711v7M408.5 712v5M413.5 708v28M417.5 730v7M423.5 730v11M424.5 730v9M427.5 736v7M430.5 748v4M437.5 752v2M438.5 752v3M440.5 751v4M443.5 743v7M444.5 742v6M446.5 742v4M448.5 733v6M450.5 731v7M456.5 746v3M461.5 754v7M464.5 763v1M467.5 754v3M476.5 764v13M477.5 763v6M478.5 761v8M481.5 763v4M487.5 765v2M491.5 767v2M500.5 785v10M503.5 791v4M504.5 781v12M506.5 780v13M508.5 781v14M513.5 788v22M516.5 802v12M518.5 808v5M520.5 794v18M521.5 792v4M523.5 781v15M524.5 778v10M526.5 781v5M527.5 778v7M530.5 769v7M533.5 762v11M540.5 780v8M541.5 780v7M547.5 780v6M549.5 776v8M550.5 777v5M553.5 771v7M556.5 770v17M557.5 769v10M559.5 767v10M560.5 758v9M561.5 743v13M566.5 758v19M570.5 766v12M571.5 764v8M573.5 759v11M574.5 748v15M576.5 737v12M577.5 736v13M580.5 730v8M581.5 732v2M589.5 744v7M590.5 742v11M597.5 755v3M599.5 742v28M601.5 738v25M603.5 750v22M604.5 760v15M610.5 769v8M611.5 769v5M613.5 776v3M617.5 772v5M620.5 767v7M623.5 767v18M624.5 772v6M629.5 778v4M634.5 782v2M636.5 779v2M640.5 781v6M643.5 774v10M644.5 775v10M646.5 776v6M647.5 775v7M650.5 771v6M657.5 776v5M659.5 776v3M660.5 770v7M661.5 762v8M663.5 759v11M667.5 750v13M670.5 756v4M671.5 756v5M673.5 755v6M680.5 759v3M683.5 757v2M689.5 754v4M691.5 754v3M696.5 741v11M697.5 743v5M707.5 751v11M710.5 751v10M714.5 755v3M716.5 751v12M722.5 756v7M723.5 760v4M724.5 764v4M726.5 762v4M727.5 758v9M737.5 761v16M739.5 757v11M740.5 758v10M742.5 756v10M743.5 750v16M744.5 748v10M746.5 741v13M747.5 735v8M756.5 737v6M757.5 739v9M759.5 736v11M762.5 734v5M763.5 731v4M764.5 729v4M766.5 721v8M767.5 721v4M769.5 721v3M782.5 746v10M783.5 741v15M790.5 745v4M792.5 739v9M793.5 740v11M806.5 749v5M807.5 752v4M813.5 747v6M819.5 752v7M820.5 753v3M823.5 751v5M824.5 747v10M836.5 749v26M837.5 750v21M839.5 751v9M840.5 754v2M846.5 763v2M849.5 761v1M850.5 760v3M856.5 758v7M857.5 759v9M862.5 766v7M866.5 763v3M867.5 762v3M869.5 752v12M872.5 756v12M877.5 777v4M879.5 772v8M880.5 759v21M882.5 762v11M883.5 762v12M885.5 761v13M889.5 757v7M890.5 757v5M893.5 738v17M895.5 743v14M897.5 742v3M899.5 741v9M906.5 752v6M907.5 750v9M909.5 753v2M922.5 759v5M923.5 760v7M939.5 796v4M946.5 804v6M950.5 778v13M962.5 786v3M963.5 783v8M965.5 782v7M966.5 773v13M967.5 772v15M973.5 779v7M980.5 787v2M982.5 773v13M999.5 786v14M1002.5 797v2M1005.5 793v4M1006.5 789v2M1012.5 791v4M1013.5 783v11M1015.5 781v7M1016.5 779v6M1018.5 772v12M1019.5 770v8M1020.5 770v6M1023.5 768v12M1026.5 764v7M1028.5 760v9M1029.5 758v10M1030.5 752v11M1032.5 751v12M1033.5 756v7M1038.5 751v25M1040.5 765v6M1049.5 772v12M1050.5 772v5M1052.5 769v10M1053.5 774v7M1058.5 774v5M1059.5 775v3M1062.5 774v7M1063.5 774v12M1066.5 776v6M1068.5 774v6M1072.5 775v2M1073.5 775v4M1076.5 780v2M1078.5 778v2M1079.5 778v2M1080.5 777v5M1082.5 782v4M1085.5 779v3M1089.5 781v2M1093.5 777v11M1095.5 776v12M1096.5 764v19M1098.5 762v9M1099.5 761v10M1106.5 767v3M1108.5 756v21M1109.5 752v13M1112.5 728v23M1113.5 719v14M1115.5 719v13M1116.5 718v14M1118.5 721v10M1122.5 721v19M1123.5 720v19M1125.5 707v31M1126.5 712v15M1131.5 714v13M1132.5 724v6M1135.5 716v15M1136.5 725v14M1139.5 729v9M1141.5 728v11M1142.5 726v5M1143.5 724v10M1145.5 726v6M1148.5 724v8M1149.5 727v5M1152.5 720v6M1156.5 718v5M1159.5 712v10M1161.5 713v6M1171.5 724v3M1176.5 728v16M1181.5 720v5M1182.5 722v3M1185.5 719v9M1186.5 718v9M1188.5 715v9M1193.5 729v8M1196.5 727v5M1198.5 727v4M1199.5 726v5M1202.5 714v10M1206.5 724v5M1208.5 725v5M1209.5 715v12M1211.5 715v8M1213.5 711v6M1215.5 705v12M1216.5 697v19M1218.5 708v5M1219.5 694v17M1221.5 681v20M1222.5 680v21M1226.5 695v9M1228.5 692v9M1229.5 660v37M1231.5 661v37M1238.5 676v15M1239.5 671v23M1241.5 670v22M1242.5 677v5M1246.5 678v8M1248.5 676v8M1249.5 679v5M1251.5 679v4M1252.5 670v5M1253.5 669v9M1255.5 666v13M1262.5 679v4M1263.5 678v5M1265.5 678v6M1268.5 677v6M1275.5 683v4M1276.5 681v7M1278.5 680v3M1279.5 680v4M1281.5 680v4M1282.5 671v9M1286.5 672v3M1289.5 669v11M1292.5 643v25M1295.5 636v10M1296.5 628v17M1299.5 608v26M1309.5 636v10M1311.5 635v10M1314.5 633v11M1315.5 632v14M1316.5 629v15M1319.5 602v24M1321.5 593v32M1322.5 602v23M1326.5 602v15M1328.5 612v4M1329.5 602v20M1331.5 601v10M1334.5 585v14M1335.5 577v17M1336.5 575v17M1338.5 574v6M1341.5 574v3M1342.5 577v9M1344.5 573v6M1345.5 561v14M1346.5 561v14M1348.5 557v27M1349.5 559v26M1351.5 546v15M1354.5 531v26M1355.5 528v17M1358.5 530v24M1359.5 519v31M1361.5 515v15M1362.5 513v20M1368.5 527v21M1369.5 529v20M1371.5 532v22M1374.5 495v15M1376.5 501v4M1381.5 496v9M1382.5 501v5M1384.5 489v12M1385.5 495v6M1388.5 500v5M1394.5 505v22M1398.5 521v6M1401.5 514v12M1402.5 515v7M1407.5 513v19M1409.5 524v4M1411.5 510v23M1412.5 516v11M1415.5 505v22M1417.5 487v19M1418.5 473v33M1424.5 500v10M1425.5 500v8M1428.5 462v24M1429.5 460v27M1434.5 473v13M1435.5 467v19M1437.5 457v28M1438.5 456v13M1439.5 456v14M1441.5 457v14M1442.5 455v4M1447.5 480v7M1448.5 471v21M1449.5 466v12M1451.5 460v19M1454.5 468v14M1457.5 406v50M1458.5 414v19M1459.5 400v22M1461.5 414v8M1475.5 430v14M1477.5 432v4M1479.5 424v11M1482.5 425v4M1484.5 428v13M1485.5 431v3M1487.5 420v15M1489.5 411v12M1491.5 400v20M1494.5 402v11M1497.5 388v21M1498.5 388v21M1501.5 388v11M1502.5 384v10M1508.5 371v29M1509.5 351v30M1511.5 340v24M1513.5 336v9M1515.5 342v5M1517.5 327v15M1518.5 301v24M1529.5 368v11M1539.5 383v12M1548.5 395v4M1551.5 390v11M1557.5 398v5M1558.5 392v11M1560.5 385v13M1567.5 414v9M1572.5 426v12M1577.5 432v10M1578.5 440v3M1585.5 433v10M1587.5 435v3M1588.5 431v15M1590.5 430v17M1591.5 424v18M1594.5 413v12M1595.5 403v21M1597.5 406v12M1600.5 409v10M1607.5 457v24M1608.5 455v25M1611.5 424v14M1618.5 431v14M1621.5 437v11M1622.5 431v13M1624.5 413v29M1625.5 407v22M1627.5 394v11M1629.5 376v37M1632.5 375v24M1635.5 372v4M1636.5 340v37M1640.5 331v3M1642.5 313v21M1646.5 328v12M1649.5 327v6M1654.5 325v4"/>
<path stroke="#585858" d="M3.5 319v15M6.5 328v2M10.5 313v18M13.5 331v5M14.5 338v5M17.5 337v19M18.5 356v12M21.5 374v14M23.5 254v76M24.5 234v19M28.5 211v17M30.5 228v8M33.5 211v33M35.5 167v35M37.5 74v39M40.5 85v1M41.5 114v24M43.5 65v29M45.5 94v20M46.5 114v10M50.5 118v37M51.5 155v3M54.5 153v12M55.5 173v3M57.5 153v20M59.5 134v4M60.5 87v12M60.5 114v12M62.5 108v6M64.5 86v22M65.5 22v55M67.5 4v10M68.5 551v192M70.5 743v15M71.5 758v13M74.5 745v19M77.5 723v16M79.5 714v9M80.5 684v5M81.5 704v9M83.5 692v1M84.5 694v4M87.5 692v5M90.5 702v1M91.5 698v2M93.5 691v1M94.5 703v1M96.5 693v2M97.5 704v5M101.5 677v3M101.5 687v17M104.5 680v1M106.5 682v5M107.5 661v19M109.5 651v4M111.5 657v4M113.5 661v2M113.5 670v1M114.5 667v2M117.5 662v1M120.5 663v3M123.5 666v4M124.5 674v5M127.5 668v1M129.5 676v4M130.5 672v4M132.5 648v24M133.5 634v12M136.5 619v13M137.5 633v4M139.5 652v4M140.5 635v12M142.5 647v14M143.5 661v5M144.5 670v2M147.5 666v3M153.5 683v2M154.5 662v19M156.5 684v2M159.5 668v5M160.5 674v5M162.5 679v3M164.5 683v4M166.5 695v1M167.5 686v1M170.5 702v4M172.5 679v12M173.5 693v12M174.5 706v9M176.5 726v5M179.5 721v4M180.5 698v5M183.5 717v1M186.5 698v7M187.5 706v1M190.5 707v3M192.5 710v1M193.5 711v1M196.5 721v1M197.5 711v10M199.5 693v17M200.5 670v3M200.5 686v5M202.5 680v6M203.5 672v7M204.5 665v6M207.5 660v8M210.5 675v1M212.5 674v1M216.5 657v16M217.5 685v1M219.5 694v1M223.5 692v2M224.5 683v9M226.5 681v2M227.5 676v4M229.5 665v2M229.5 675v1M230.5 667v2M230.5 674v1M233.5 675v1M236.5 666v2M237.5 669v1M239.5 678v2M242.5 675v3M244.5 665v5M246.5 670v4M247.5 674v9M249.5 683v2M250.5 685v7M253.5 692v14M254.5 706v3M256.5 709v18M257.5 729v2M262.5 732v6M263.5 740v6M267.5 753v11M270.5 734v20M272.5 722v7M273.5 720v2M276.5 710v10M280.5 705v1M282.5 706v1M283.5 707v9M289.5 735v5M293.5 713v3M295.5 722v10M296.5 719v2M297.5 712v7M300.5 702v10M300.5 715v7M303.5 712v3M305.5 695v1M306.5 696v1M307.5 697v20M310.5 690v1M313.5 690v14M316.5 706v1M317.5 707v2M319.5 709v9M320.5 719v2M320.5 722v2M323.5 720v3M325.5 705v2M325.5 713v7M326.5 712v1M327.5 709v3M330.5 706v4M332.5 702v1M333.5 704v3M337.5 697v1M337.5 703v6M343.5 696v2M343.5 707v1M345.5 698v8M346.5 706v4M347.5 710v3M347.5 715v1M350.5 714v1M353.5 718v2M356.5 699v20M357.5 671v27M360.5 647v2M360.5 665v4M362.5 649v1M363.5 659v5M366.5 649v4M367.5 654v12M369.5 666v3M369.5 683v5M370.5 671v5M373.5 677v7M375.5 702v2M376.5 678v10M377.5 689v5M380.5 688v5M380.5 697v2M383.5 687v2M385.5 689v2M387.5 691v1M390.5 693v7M393.5 711v2M397.5 698v2M397.5 712v5M402.5 698v11M403.5 709v6M415.5 708v8M416.5 716v4M418.5 720v9M418.5 738v5M419.5 730v4M420.5 734v1M423.5 741v2M425.5 739v2M426.5 730v1M428.5 731v5M429.5 736v3M430.5 739v5M435.5 743v5M435.5 756v3M436.5 748v1M438.5 749v1M442.5 754v1M443.5 750v3M445.5 748v2M446.5 746v2M449.5 739v6M450.5 738v1M452.5 731v1M453.5 732v1M456.5 732v12M458.5 746v1M459.5 747v2M460.5 749v2M462.5 751v3M463.5 754v2M465.5 756v5M466.5 763v1M470.5 754v2M472.5 756v14M473.5 781v3M476.5 777v6M478.5 770v7M480.5 761v3M480.5 768v1M483.5 763v1M486.5 764v3M490.5 764v2M493.5 767v1M496.5 765v1M499.5 766v5M500.5 771v13M502.5 785v5M503.5 790v1M509.5 780v1M510.5 781v14M512.5 796v1M513.5 810v4M515.5 788v6M516.5 796v6M518.5 802v2M519.5 806v1M520.5 812v1M522.5 797v15M525.5 789v7M526.5 778v3M526.5 786v2M529.5 779v6M530.5 776v3M532.5 775v1M533.5 773v1M535.5 771v2M538.5 762v3M539.5 766v14M540.5 790v2M543.5 784v3M546.5 780v3M549.5 784v2M551.5 776v1M551.5 782v2M552.5 781v1M558.5 779v8M559.5 777v2M561.5 767v10M562.5 758v9M563.5 755v1M565.5 742v1M566.5 744v14M568.5 758v7M569.5 765v1M569.5 769v8M572.5 773v5M573.5 770v2M575.5 765v5M576.5 749v14M579.5 748v1M581.5 739v9M582.5 736v2M586.5 726v18M589.5 735v9M589.5 751v6M592.5 742v1M593.5 743v6M595.5 761v1M596.5 750v10M601.5 767v3M603.5 738v12M605.5 750v9M606.5 760v1M608.5 761v9M609.5 778v5M613.5 769v5M616.5 772v3M625.5 767v5M625.5 779v6M626.5 772v6M629.5 777v1M629.5 782v2M632.5 778v1M633.5 780v6M635.5 788v2M636.5 782v2M638.5 779v1M639.5 780v4M641.5 788v1M642.5 785v2M643.5 784v1M646.5 775v1M646.5 782v3M649.5 777v5M653.5 770v1M656.5 771v5M659.5 779v2M661.5 777v2M662.5 770v7M665.5 759v2M666.5 764v5M669.5 750v5M671.5 755v1M675.5 758v3M682.5 761v1M683.5 754v3M685.5 758v1M686.5 754v2M689.5 753v1M695.5 756v2M696.5 752v4M698.5 741v2M698.5 748v4M699.5 743v1M699.5 746v2M705.5 745v4M708.5 748v2M708.5 762v1M709.5 751v2M709.5 758v4M714.5 750v5M719.5 751v1M722.5 751v5M724.5 756v1M725.5 760v1M726.5 766v2M729.5 758v4M729.5 766v1M732.5 762v5M736.5 769v12M738.5 781v3M739.5 768v9M741.5 757v1M742.5 766v2M745.5 758v8M746.5 754v4M748.5 743v11M749.5 742v1M752.5 734v4M756.5 743v1M758.5 737v1M759.5 747v1M762.5 729v5M762.5 739v6M764.5 736v3M765.5 733v2M766.5 729v4M768.5 725v4M769.5 724v1M772.5 722v1M775.5 724v5M776.5 729v12M778.5 741v4M779.5 745v1M781.5 746v1M786.5 744v17M789.5 741v4M792.5 748v1M795.5 746v5M796.5 743v3M798.5 739v2M802.5 741v2M805.5 742v7M809.5 755v1M812.5 744v4M818.5 745v6M822.5 753v1M826.5 747v1M826.5 753v4M831.5 747v6M838.5 773v2M839.5 750v1M839.5 760v11M841.5 758v2M842.5 754v2M847.5 757v5M847.5 765v2M849.5 763v2M854.5 759v1M855.5 760v6M857.5 754v3M859.5 759v3M861.5 769v3M862.5 761v5M865.5 771v2M867.5 766v5M868.5 765v1M869.5 764v1M874.5 767v1M875.5 757v4M877.5 761v5M879.5 780v1M882.5 759v3M882.5 773v7M887.5 769v5M888.5 767v2M889.5 755v2M889.5 764v3M891.5 762v2M892.5 761v1M894.5 756v5M895.5 738v5M902.5 751v3M904.5 740v7M905.5 750v1M905.5 758v4M909.5 750v3M909.5 755v4M912.5 754v2M918.5 750v4M919.5 754v2M921.5 763v1M922.5 756v3M925.5 760v6M927.5 766v2M928.5 768v1M929.5 770v5M931.5 775v6M932.5 782v3M934.5 785v4M934.5 793v5M935.5 789v1M938.5 790v1M939.5 792v4M941.5 796v1M942.5 797v2M945.5 799v6M949.5 803v7M951.5 791v12M952.5 782v9M957.5 779v2M957.5 787v2M959.5 782v1M961.5 783v3M962.5 790v2M965.5 789v2M967.5 787v2M971.5 787v1M972.5 767v12M974.5 786v1M975.5 779v4M975.5 785v1M978.5 778v5M979.5 783v2M981.5 785v2M982.5 787v2M984.5 773v4M985.5 787v1M987.5 779v2M988.5 786v4M991.5 778v1M992.5 779v8M994.5 787v1M997.5 791v1M1000.5 783v3M1001.5 786v5M1002.5 791v6M1004.5 798v1M1005.5 797v1M1011.5 795v1M1012.5 790v1M1014.5 794v1M1015.5 788v6M1017.5 785v3M1018.5 784v1M1020.5 778v6M1021.5 777v1M1025.5 768v1M1027.5 773v9M1028.5 769v2M1030.5 768v1M1031.5 764v4M1040.5 751v2M1040.5 774v2M1042.5 766v5M1048.5 755v15M1054.5 769v2M1057.5 772v1M1057.5 780v2M1062.5 770v4M1065.5 774v8M1065.5 785v1M1067.5 782v3M1068.5 780v2M1072.5 777v2M1075.5 775v1M1078.5 780v2M1082.5 777v5M1084.5 784v2M1085.5 776v3M1088.5 778v1M1097.5 784v4M1098.5 771v12M1101.5 761v1M1101.5 770v1M1105.5 769v1M1107.5 764v3M1110.5 765v12M1111.5 762v3M1112.5 751v10M1114.5 735v16M1115.5 732v1M1118.5 718v3M1118.5 731v1M1121.5 738v4M1122.5 713v8M1125.5 738v1M1127.5 707v4M1127.5 727v11M1128.5 712v5M1128.5 719v8M1131.5 727v1M1133.5 714v7M1137.5 716v7M1138.5 725v2M1138.5 738v1M1143.5 734v5M1145.5 724v2M1145.5 732v2M1150.5 724v3M1153.5 727v5M1154.5 725v1M1155.5 719v6M1158.5 718v2M1161.5 712v1M1161.5 719v3M1167.5 714v5M1168.5 719v1M1170.5 720v1M1171.5 721v3M1174.5 724v4M1177.5 744v3M1178.5 743v1M1180.5 726v17M1181.5 725v1M1185.5 728v1M1187.5 727v1M1188.5 724v3M1193.5 714v8M1194.5 722v7M1195.5 729v1M1195.5 733v4M1197.5 732v1M1198.5 731v1M1201.5 726v5M1203.5 725v1M1204.5 714v1M1207.5 715v8M1208.5 724v1M1210.5 727v3M1211.5 723v4M1213.5 720v3M1214.5 717v2M1218.5 697v11M1218.5 713v3M1220.5 711v2M1221.5 701v10M1225.5 679v2M1227.5 681v14M1227.5 704v7M1228.5 701v3M1231.5 660v1M1234.5 667v12M1237.5 669v5M1237.5 693v6M1238.5 674v2M1238.5 691v1M1241.5 692v2M1243.5 670v6M1243.5 684v8M1244.5 677v1M1244.5 681v1M1248.5 684v2M1250.5 676v2M1251.5 683v1M1253.5 679v4M1257.5 666v3M1258.5 675v9M1260.5 671v4M1261.5 684v1M1268.5 683v2M1273.5 677v2M1274.5 680v1M1278.5 683v5M1283.5 681v3M1291.5 676v4M1293.5 669v7M1294.5 648v20M1296.5 646v2M1298.5 637v8M1303.5 631v3M1304.5 607v24M1306.5 632v1M1308.5 634v3M1308.5 643v2M1311.5 645v1M1313.5 644v1M1318.5 636v8M1320.5 630v6M1321.5 625v1M1323.5 593v8M1324.5 602v14M1324.5 623v2M1326.5 617v6M1328.5 602v10M1328.5 616v1M1331.5 611v11M1333.5 606v5M1334.5 599v7M1336.5 597v2M1337.5 592v2M1338.5 580v12M1341.5 577v1M1343.5 574v2M1344.5 579v7M1346.5 576v3M1351.5 561v24M1353.5 546v1M1354.5 557v5M1356.5 545v12M1360.5 551v3M1361.5 530v20M1364.5 513v2M1366.5 515v2M1368.5 518v9M1370.5 527v1M1371.5 529v3M1373.5 538v16M1374.5 510v27M1376.5 509v1M1377.5 508v1M1380.5 491v4M1381.5 505v2M1383.5 496v4M1384.5 501v5M1388.5 489v11M1390.5 500v3M1393.5 493v6M1394.5 500v5M1397.5 524v2M1398.5 504v17M1401.5 526v2M1406.5 504v5M1407.5 511v2M1409.5 513v2M1409.5 531v1M1413.5 510v5M1413.5 528v5M1417.5 506v21M1420.5 473v12M1421.5 485v15M1423.5 500v1M1424.5 510v9M1426.5 508v2M1427.5 500v8M1429.5 487v12M1431.5 460v1M1431.5 484v3M1433.5 461v12M1437.5 485v1M1439.5 471v14M1441.5 456v1M1443.5 459v12M1446.5 447v22M1447.5 470v10M1450.5 478v14M1453.5 460v6M1454.5 467v1M1457.5 460v23M1459.5 437v19M1460.5 422v11M1461.5 400v14M1463.5 414v1M1464.5 426v3M1467.5 421v5M1470.5 415v1M1470.5 424v1M1471.5 416v2M1473.5 418v10M1474.5 428v2M1474.5 442v3M1477.5 430v2M1477.5 436v8M1481.5 430v5M1484.5 425v3M1486.5 436v5M1489.5 427v8M1490.5 424v3M1491.5 420v3M1493.5 415v5M1494.5 401v1M1494.5 413v2M1497.5 386v2M1497.5 409v2M1500.5 402v7M1501.5 399v2M1503.5 394v5M1504.5 384v10M1507.5 382v18M1510.5 381v19M1511.5 364v17M1513.5 345v19M1517.5 342v5M1519.5 327v15M1520.5 320v5M1521.5 301v19M1524.5 330v26M1527.5 356v19M1529.5 379v3M1531.5 378v1M1533.5 353v25M1536.5 375v3M1539.5 370v7M1540.5 378v3M1543.5 383v7M1543.5 406v4M1544.5 393v3M1544.5 403v3M1547.5 391v4M1547.5 399v6M1550.5 395v1M1554.5 387v4M1554.5 395v8M1557.5 392v6M1560.5 398v5M1564.5 385v9M1567.5 394v20M1573.5 415v9M1574.5 426v1M1576.5 427v2M1577.5 431v1M1577.5 442v2M1580.5 442v1M1582.5 432v1M1586.5 443v1M1587.5 433v2M1587.5 438v5M1592.5 443v4M1593.5 434v8M1594.5 425v9M1597.5 403v3M1597.5 418v6M1599.5 406v1M1602.5 409v10M1603.5 421v28M1604.5 452v8M1606.5 490v1M1607.5 481v9M1609.5 480v1M1610.5 455v25M1612.5 439v15M1614.5 425v2M1616.5 427v5M1616.5 438v2M1619.5 430v1M1620.5 431v2M1620.5 438v7M1623.5 444v4M1624.5 442v2M1626.5 430v12M1627.5 407v22M1631.5 388v25M1634.5 392v7M1635.5 371v1M1635.5 376v6M1638.5 342v35M1640.5 336v6M1645.5 328v12M1648.5 328v12M1649.5 307v20M1651.5 327v6M1653.5 324v2M1656.5 325v4"/>
<path stroke="#b42222" d="M5.5 319v11M9.5 313v18M10.5 331v7M12.5 331v7M16.5 337v19M17.5 356v12M19.5 371v3M25.5 220v14M27.5 211v23M29.5 228v10M38.5 39v25M39.5 85v1M42.5 65v49M44.5 94v20M45.5 114v10M49.5 118v37M49.5 158v19M53.5 153v14M59.5 87v39M61.5 99v15M67.5 551v193M69.5 743v15M70.5 758v13M74.5 735v2M79.5 684v9M82.5 692v2M82.5 698v6M83.5 694v4M86.5 692v6M90.5 698v2M92.5 691v2M100.5 677v27M105.5 681v6M112.5 661v2M112.5 669v2M113.5 663v6M115.5 665v2M122.5 666v7M128.5 676v4M135.5 619v14M138.5 651v5M139.5 635v16M141.5 647v14M142.5 661v5M143.5 666v6M145.5 664v2M145.5 669v1M146.5 666v3M152.5 683v2M153.5 662v21M155.5 683v3M159.5 674v10M162.5 682v1M163.5 683v13M166.5 686v7M168.5 687v2M171.5 679v14M172.5 693v13M173.5 706v12M175.5 725v6M176.5 710v15M182.5 705v13M183.5 701v4M185.5 698v8M186.5 706v9M189.5 707v10M192.5 711v6M193.5 717v5M195.5 721v1M206.5 660v8M208.5 670v1M209.5 671v5M211.5 673v2M213.5 664v9M215.5 657v16M218.5 693v2M219.5 684v9M225.5 680v3M229.5 667v8M235.5 666v3M238.5 677v3M243.5 665v9M245.5 670v4M246.5 674v9M248.5 683v2M249.5 685v14M252.5 692v14M253.5 706v21M256.5 729v5M258.5 731v2M259.5 733v15M261.5 732v8M262.5 740v12M264.5 746v7M276.5 705v5M279.5 705v6M281.5 706v1M282.5 707v13M286.5 715v15M288.5 714v4M288.5 725v15M289.5 718v7M302.5 700v15M306.5 697v20M312.5 690v14M314.5 705v1M315.5 706v1M316.5 707v8M318.5 709v9M319.5 719v5M332.5 704v5M344.5 698v8M345.5 706v4M356.5 671v27M361.5 649v2M361.5 664v1M364.5 656v3M365.5 649v5M366.5 654v27M368.5 666v5M368.5 676v12M372.5 677v7M375.5 678v11M375.5 694v8M376.5 689v5M381.5 695v2M382.5 687v8M384.5 689v3M386.5 691v9M388.5 692v1M392.5 700v13M394.5 705v6M399.5 699v12M401.5 698v11M402.5 709v11M404.5 715v7M405.5 712v2M412.5 709v9M415.5 716v21M417.5 720v10M417.5 737v6M419.5 734v4M422.5 734v9M427.5 731v5M429.5 739v5M432.5 743v11M434.5 743v5M434.5 755v4M435.5 748v7M437.5 749v3M437.5 754v1M442.5 748v5M448.5 739v6M452.5 732v5M455.5 732v12M458.5 747v2M459.5 749v5M461.5 751v3M464.5 756v7M467.5 757v2M469.5 754v16M471.5 756v14M472.5 770v14M475.5 769v14M481.5 767v1M485.5 764v4M487.5 767v2M489.5 764v5M491.5 766v1M494.5 768v1M495.5 765v2M498.5 766v5M499.5 771v13M502.5 790v5M508.5 780v1M511.5 796v1M512.5 797v17M515.5 796v17M518.5 806v2M529.5 771v8M532.5 762v12M535.5 762v8M537.5 762v4M538.5 766v14M539.5 790v2M544.5 778v2M544.5 783v1M545.5 780v3M552.5 773v3M555.5 775v10M564.5 742v2M565.5 744v24M568.5 765v12M580.5 738v10M585.5 726v20M588.5 735v22M592.5 743v15M594.5 749v1M594.5 761v1M595.5 750v11M597.5 760v2M607.5 761v10M608.5 771v12M610.5 768v1M610.5 777v1M615.5 772v6M617.5 777v1M620.5 774v6M622.5 767v7M628.5 777v7M631.5 778v2M632.5 780v6M634.5 788v2M638.5 780v7M640.5 787v2M642.5 779v6M652.5 770v3M655.5 771v6M665.5 764v5M670.5 755v1M670.5 760v3M675.5 751v6M677.5 751v2M678.5 753v4M680.5 750v8M682.5 754v4M685.5 754v4M688.5 753v5M691.5 753v1M694.5 756v2M695.5 747v9M701.5 744v2M703.5 744v1M704.5 745v4M705.5 749v7M707.5 748v3M707.5 762v1M713.5 750v6M713.5 759v3M714.5 758v1M718.5 751v4M720.5 761v1M721.5 751v10M731.5 762v19M733.5 767v1M733.5 783v1M734.5 768v1M735.5 769v15M737.5 781v3M751.5 734v8M755.5 738v6M761.5 729v16M771.5 722v7M773.5 723v1M774.5 724v5M775.5 729v18M777.5 741v4M778.5 745v4M780.5 746v1M781.5 747v9M785.5 741v20M788.5 741v9M790.5 749v4M795.5 740v6M797.5 739v4M798.5 743v2M800.5 748v1M801.5 741v7M804.5 742v7M805.5 749v5M810.5 743v1M810.5 748v7M811.5 744v4M815.5 746v8M817.5 745v7M818.5 752v7M823.5 756v1M827.5 748v1M828.5 749v5M830.5 747v6M831.5 753v8M834.5 749v2M835.5 751v19M844.5 757v5M846.5 757v6M846.5 765v2M848.5 763v2M853.5 759v1M853.5 766v1M854.5 760v6M856.5 754v4M860.5 769v3M861.5 761v8M864.5 765v8M866.5 766v5M871.5 756v10M874.5 757v10M876.5 761v6M877.5 767v10M887.5 767v2M888.5 755v12M893.5 756v5M897.5 745v4M901.5 741v13M903.5 740v10M904.5 750v12M906.5 751v1M911.5 750v6M913.5 750v1M914.5 751v3M917.5 750v4M918.5 754v5M920.5 763v1M921.5 756v7M926.5 766v2M927.5 768v2M928.5 770v12M930.5 775v7M931.5 782v14M933.5 785v4M933.5 793v5M934.5 789v4M937.5 790v2M938.5 792v8M941.5 797v5M944.5 799v6M946.5 810v1M948.5 796v14M950.5 791v12M953.5 778v3M954.5 781v2M956.5 779v3M956.5 787v2M958.5 782v5M960.5 783v7M961.5 790v2M970.5 786v2M971.5 767v19M973.5 786v1M977.5 778v5M978.5 783v4M980.5 785v2M984.5 781v7M986.5 779v7M987.5 786v4M990.5 778v1M991.5 779v10M993.5 787v3M994.5 790v2M996.5 786v1M996.5 790v2M997.5 787v3M999.5 783v3M1001.5 791v8M1004.5 793v5M1009.5 789v2M1009.5 796v1M1010.5 795v1M1011.5 790v5M1026.5 771v11M1036.5 751v2M1037.5 753v13M1040.5 754v11M1040.5 771v2M1043.5 760v1M1044.5 761v6M1047.5 755v19M1049.5 770v2M1056.5 772v3M1056.5 778v4M1057.5 775v3M1061.5 770v9M1066.5 782v3M1070.5 774v1M1071.5 775v4M1076.5 776v4M1084.5 776v6M1087.5 778v3M1089.5 779v2M1091.5 776v5M1093.5 776v1M1101.5 766v3M1104.5 765v5M1106.5 764v3M1111.5 737v24M1120.5 735v7M1121.5 713v22M1130.5 715v13M1134.5 721v10M1139.5 727v2M1147.5 728v4M1152.5 726v6M1154.5 719v6M1159.5 722v2M1164.5 715v6M1166.5 714v5M1166.5 724v1M1167.5 719v5M1169.5 720v1M1170.5 721v5M1173.5 724v5M1174.5 729v5M1176.5 744v3M1179.5 726v17M1180.5 721v5M1184.5 723v6M1190.5 715v8M1192.5 714v8M1193.5 722v7M1196.5 732v1M1202.5 724v2M1204.5 716v9M1206.5 715v9M1206.5 729v2M1213.5 717v2M1224.5 679v26M1226.5 681v14M1226.5 704v7M1233.5 667v12M1234.5 679v18M1236.5 669v5M1236.5 692v7M1237.5 674v18M1244.5 679v1M1257.5 671v13M1259.5 671v4M1260.5 679v6M1262.5 683v1M1267.5 677v8M1270.5 678v3M1272.5 677v3M1273.5 680v4M1275.5 681v2M1285.5 672v8M1286.5 670v2M1289.5 680v1M1292.5 668v8M1295.5 646v2M1299.5 634v3M1302.5 631v3M1303.5 607v24M1305.5 632v2M1307.5 634v11M1313.5 635v4M1319.5 626v10M1325.5 616v7M1333.5 594v12M1340.5 575v3M1353.5 548v14M1357.5 533v8M1365.5 515v2M1366.5 517v1M1367.5 518v30M1373.5 505v32M1376.5 494v7M1376.5 505v4M1379.5 491v5M1380.5 496v11M1387.5 489v11M1390.5 503v12M1392.5 493v7M1393.5 500v18M1396.5 524v2M1397.5 504v20M1400.5 515v13M1405.5 504v7M1405.5 528v1M1406.5 511v17M1409.5 516v8M1420.5 485v24M1422.5 500v3M1423.5 503v16M1428.5 486v13M1432.5 461v14M1432.5 483v1M1433.5 475v8M1445.5 447v23M1446.5 470v17M1453.5 467v12M1456.5 460v23M1463.5 415v14M1465.5 415v6M1466.5 421v5M1469.5 415v1M1469.5 423v2M1470.5 416v7M1472.5 418v10M1473.5 428v17M1479.5 435v1M1482.5 421v4M1482.5 429v1M1489.5 423v4M1493.5 401v14M1496.5 386v25M1500.5 389v12M1506.5 382v24M1508.5 400v6M1515.5 327v15M1515.5 347v9M1520.5 301v19M1522.5 320v7M1523.5 330v26M1526.5 356v19M1528.5 375v7M1532.5 353v25M1535.5 375v6M1536.5 384v4M1538.5 370v8M1538.5 388v7M1539.5 378v5M1542.5 383v10M1542.5 406v4M1543.5 393v13M1546.5 391v14M1553.5 387v16M1555.5 391v1M1556.5 392v11M1562.5 383v2M1563.5 385v19M1566.5 394v21M1569.5 415v11M1571.5 413v2M1572.5 415v11M1575.5 427v4M1576.5 431v13M1581.5 432v7M1583.5 433v11M1585.5 443v1M1593.5 424v10M1599.5 409v9M1602.5 421v31M1603.5 452v26M1605.5 490v1M1606.5 458v32M1611.5 438v16M1613.5 425v14M1615.5 427v5M1615.5 438v2M1616.5 432v6M1618.5 430v1M1621.5 433v4M1631.5 375v13M1634.5 371v11M1639.5 336v6M1644.5 328v12M1648.5 307v20M1652.5 313v13M1654.5 313v11"/>
<path stroke="#1c961c" d="M1.5 340v20M2.5 319v15M7.5 314v14M13.5 338v5M14.5 350v6M20.5 374v14M22.5 253v77M23.5 231v22M32.5 211v33M34.5 167v35M35.5 129v9M36.5 74v39M40.5 86v52M50.5 155v3M54.5 167v9M56.5 153v20M58.5 126v12M63.5 86v22M64.5 22v55M66.5 4v10M73.5 739v25M76.5 720v19M78.5 712v11M80.5 693v20M85.5 699v4M89.5 697v1M89.5 700v3M93.5 693v11M95.5 693v3M96.5 696v13M98.5 703v1M103.5 680v7M106.5 660v20M108.5 651v5M109.5 656v1M110.5 657v11M116.5 662v3M119.5 663v8M123.5 673v6M126.5 668v8M129.5 664v12M131.5 648v24M132.5 634v12M133.5 624v10M136.5 633v12M149.5 669v17M151.5 685v1M156.5 674v9M158.5 668v6M161.5 679v3M165.5 693v3M169.5 689v17M178.5 720v5M179.5 698v22M181.5 718v3M191.5 710v1M196.5 711v10M198.5 693v17M199.5 670v21M201.5 679v7M202.5 672v7M203.5 663v8M212.5 663v1M216.5 685v9M222.5 692v2M223.5 681v11M226.5 669v11M228.5 665v2M228.5 675v1M231.5 669v5M232.5 674v2M233.5 669v3M236.5 669v8M239.5 670v7M241.5 670v1M241.5 674v4M255.5 709v18M265.5 764v2M266.5 733v31M268.5 732v2M269.5 734v20M271.5 722v7M272.5 717v5M275.5 710v10M284.5 716v1M292.5 713v19M294.5 721v11M295.5 719v2M296.5 703v16M299.5 702v20M304.5 695v1M305.5 696v1M309.5 690v6M322.5 720v3M324.5 705v4M324.5 713v7M325.5 712v1M326.5 707v5M329.5 703v7M331.5 702v2M334.5 709v2M336.5 697v12M338.5 698v5M339.5 704v3M342.5 696v12M346.5 710v6M349.5 706v9M352.5 703v17M355.5 698v21M359.5 647v22M362.5 651v13M369.5 671v5M374.5 702v2M379.5 688v11M389.5 693v9M396.5 698v19M398.5 711v1M407.5 711v3M407.5 716v2M409.5 712v5M414.5 708v8M418.5 730v4M424.5 739v2M425.5 730v9M428.5 736v3M439.5 752v3M441.5 753v2M444.5 748v2M445.5 742v6M447.5 745v1M449.5 733v6M451.5 731v1M451.5 737v1M457.5 746v1M462.5 754v7M465.5 763v1M477.5 769v8M479.5 761v8M482.5 763v4M492.5 767v2M501.5 785v5M504.5 793v2M505.5 781v12M509.5 781v14M514.5 788v8M517.5 802v4M517.5 812v2M519.5 808v5M521.5 796v16M522.5 792v4M524.5 788v8M525.5 778v10M527.5 785v1M528.5 779v6M531.5 774v2M534.5 770v3M541.5 787v1M542.5 780v7M548.5 780v6M550.5 776v1M550.5 782v2M551.5 777v5M554.5 771v4M557.5 779v8M558.5 769v10M560.5 767v10M561.5 758v9M562.5 743v13M567.5 758v7M571.5 772v6M572.5 764v8M574.5 763v7M575.5 748v15M578.5 736v13M581.5 730v2M581.5 734v4M582.5 732v2M591.5 742v1M598.5 755v3M600.5 742v10M600.5 763v7M602.5 738v25M604.5 750v10M605.5 760v15M611.5 774v3M612.5 769v5M614.5 778v1M618.5 772v5M624.5 767v5M624.5 778v7M625.5 772v6M635.5 782v2M637.5 779v1M641.5 785v2M644.5 774v1M645.5 775v10M648.5 775v7M651.5 773v4M658.5 776v5M660.5 777v2M661.5 770v7M662.5 762v8M664.5 759v5M664.5 769v1M668.5 750v13M672.5 756v5M674.5 757v4M681.5 759v3M684.5 758v1M690.5 757v1M692.5 754v3M697.5 741v2M697.5 748v4M698.5 743v5M708.5 751v11M711.5 751v10M715.5 755v3M717.5 755v8M723.5 756v4M724.5 760v4M725.5 764v4M728.5 758v9M738.5 761v16M740.5 757v1M741.5 758v10M744.5 758v8M745.5 748v10M747.5 743v11M748.5 735v8M757.5 737v2M758.5 739v9M760.5 745v2M763.5 735v4M764.5 733v2M765.5 729v4M767.5 725v4M768.5 721v4M770.5 721v1M791.5 745v4M793.5 739v1M794.5 746v5M807.5 749v3M808.5 752v4M820.5 752v1M820.5 756v3M821.5 753v3M825.5 747v10M837.5 749v1M837.5 771v4M838.5 750v21M840.5 751v3M840.5 756v4M841.5 754v2M851.5 760v3M857.5 758v1M858.5 759v9M867.5 765v1M868.5 762v3M870.5 752v4M873.5 756v1M873.5 767v1M878.5 777v4M881.5 759v21M884.5 762v12M886.5 769v5M890.5 762v2M891.5 757v5M894.5 738v17M896.5 743v1M896.5 749v8M898.5 742v3M908.5 750v9M923.5 759v1M924.5 760v7M940.5 796v1M951.5 778v13M964.5 783v8M966.5 786v3M968.5 772v15M974.5 779v7M981.5 787v2M983.5 773v8M1000.5 786v5M1000.5 799v1M1003.5 798v1M1006.5 793v4M1007.5 789v2M1013.5 794v1M1014.5 783v11M1016.5 785v3M1017.5 779v6M1019.5 778v6M1020.5 776v2M1021.5 770v6M1024.5 768v12M1027.5 764v7M1029.5 768v1M1030.5 763v5M1031.5 752v11M1033.5 751v5M1034.5 756v7M1039.5 751v3M1039.5 773v3M1041.5 765v6M1050.5 777v7M1051.5 772v5M1053.5 769v5M1054.5 774v7M1059.5 774v1M1059.5 778v1M1064.5 774v12M1067.5 776v6M1069.5 777v3M1074.5 775v4M1077.5 780v2M1081.5 777v5M1083.5 782v4M1086.5 781v1M1090.5 781v2M1094.5 777v11M1096.5 783v5M1097.5 764v19M1100.5 761v5M1100.5 769v2M1107.5 767v3M1109.5 765v12M1110.5 761v4M1113.5 733v18M1114.5 719v14M1117.5 718v14M1119.5 721v1M1123.5 739v1M1124.5 720v19M1126.5 707v5M1126.5 727v11M1127.5 712v15M1132.5 714v10M1136.5 716v9M1137.5 725v14M1140.5 729v9M1142.5 731v8M1144.5 724v10M1146.5 726v2M1149.5 724v3M1150.5 727v5M1153.5 725v1M1157.5 718v5M1160.5 712v10M1162.5 713v5M1177.5 728v16M1182.5 720v2M1183.5 722v1M1186.5 727v1M1187.5 718v9M1189.5 723v1M1194.5 729v8M1197.5 727v5M1200.5 726v5M1203.5 714v2M1207.5 724v5M1209.5 727v3M1210.5 715v12M1212.5 719v4M1214.5 711v6M1216.5 716v1M1217.5 697v19M1219.5 711v2M1220.5 694v17M1227.5 695v9M1229.5 697v4M1230.5 660v37M1232.5 661v6M1232.5 696v2M1240.5 671v23M1242.5 670v7M1242.5 682v10M1243.5 677v2M1243.5 680v2M1247.5 678v8M1249.5 676v3M1250.5 679v5M1252.5 679v4M1254.5 669v9M1256.5 666v5M1264.5 678v5M1269.5 677v1M1269.5 681v2M1277.5 681v7M1280.5 680v4M1282.5 680v4M1283.5 671v9M1287.5 672v3M1290.5 669v11M1293.5 643v25M1296.5 645v1M1297.5 628v17M1300.5 608v26M1310.5 636v10M1312.5 639v6M1316.5 644v2M1317.5 629v15M1320.5 602v24M1322.5 593v9M1323.5 602v23M1327.5 602v15M1330.5 602v20M1332.5 606v5M1335.5 594v5M1336.5 592v2M1337.5 575v17M1339.5 574v1M1339.5 578v2M1342.5 574v3M1343.5 577v9M1345.5 575v4M1347.5 561v14M1349.5 557v2M1350.5 559v26M1352.5 546v2M1355.5 545v12M1356.5 528v5M1356.5 541v4M1359.5 550v4M1360.5 519v31M1363.5 513v20M1369.5 527v2M1370.5 529v20M1372.5 537v17M1375.5 509v1M1377.5 501v4M1382.5 496v5M1383.5 501v5M1385.5 489v6M1386.5 500v1M1389.5 500v3M1395.5 526v1M1402.5 514v1M1402.5 522v4M1403.5 515v7M1408.5 513v3M1408.5 525v7M1410.5 524v4M1412.5 510v6M1412.5 527v6M1413.5 516v11M1416.5 505v22M1419.5 473v12M1425.5 508v2M1426.5 500v8M1430.5 460v27M1436.5 467v19M1438.5 469v16M1440.5 456v14M1442.5 459v12M1443.5 455v4M1449.5 478v14M1450.5 466v12M1452.5 460v7M1458.5 406v8M1458.5 433v23M1459.5 422v11M1460.5 400v22M1462.5 414v1M1476.5 430v14M1480.5 424v11M1483.5 425v4M1485.5 428v3M1485.5 434v7M1486.5 431v3M1488.5 420v2M1488.5 427v8M1490.5 411v12M1492.5 400v1M1492.5 415v5M1495.5 411v2M1499.5 388v1M1499.5 401v8M1502.5 394v5M1503.5 384v10M1509.5 381v19M1510.5 351v30M1512.5 340v24M1516.5 342v5M1518.5 327v15M1519.5 320v5M1530.5 368v11M1540.5 383v12M1549.5 395v4M1559.5 392v11M1568.5 414v1M1573.5 426v12M1578.5 432v8M1579.5 440v3M1586.5 433v10M1589.5 431v15M1591.5 442v5M1592.5 434v8M1595.5 424v1M1596.5 403v21M1598.5 406v3M1601.5 409v10M1608.5 480v1M1609.5 455v25M1612.5 424v1M1619.5 431v14M1622.5 444v4M1623.5 431v13M1625.5 429v13M1626.5 407v22M1628.5 394v11M1630.5 388v25M1633.5 382v17M1637.5 340v37M1641.5 331v3M1643.5 313v15M1647.5 328v12M1650.5 327v6M1655.5 325v4"/>
</g>
<line x1="90" y1="565.5" x2="1084" y2="735.5" stroke="#00f" stroke-width="1" shape-rendering="crispEdges"/>
<line x1="1111" y1="794.4" x2="1675.4" y2="444.1" stroke="#000" stroke-width="2.9" shape-rendering="crispEdges"/>
<path d="M1109 698h4v8h4l-6 7l-6-7h4z" fill="#f00"/>
<g shape-rendering="crispEdges">
<rect x="0" y="828" width="1707" height="2" fill="#000"/>
<rect x="1706" y="0" width="1" height="829" fill="#000"/>
<path stroke="#000" stroke-width="1" fill="none" d="M1707 17.5h10M1707 30.5h5M1707 43.5h10M1707 56.5h5M1707 69.5h10M1707 82.5h5M1707 96.5h10M1707 109.5h5M1707 122.5h10M1707 135.5h5M1707 148.5h10M1707 161.5h5M1707 174.5h10M1707 187.5h5M1707 200.5h10M1707 213.5h5M1707 226.5h10M1707 239.5h5M1707 253.5h10M1707 266.5h5M1707 279.5h10M1707 292.5h5M1707 305.5h10M1707 318.5h5M1707 331.5h10M1707 344.5h5M1707 357.5h10M1707 370.5h5M1707 383.5h10M1707 396.5h5M1707 410.5h10M1707 423.5h5M1707 436.5h10M1707 449.5h5M1707 462.5h10M1707 475.5h5M1707 488.5h10M1707 501.5h5M1707 514.5h10M1707 527.5h5M1707 540.5h10M1707 553.5h5M1707 567.5h10M1707 580.5h5M1707 593.5h10M1707 606.5h5M1707 619.5h10M1707 632.5h5M1707 645.5h10M1707 658.5h5M1707 671.5h10M1707 684.5h5M1707 697.5h10M1707 710.5h5M1707 724.5h10M1707 737.5h5M1707 750.5h10M1707 763.5h5M1707 776.5h10M1707 789.5h5M1707 802.5h10M0.5 830v15M32.5 830v15M62.5 830v15M91.5 830v15M120.5 830v15M148.5 830v15M180.5 830v15M207.5 830v15M236.5 830v15M266.5 830v15M298.5 830v15M327.5 830v15M357.5 830v15M387.5 830v15M417.5 830v15M447.5 830v15M477.5 830v15M505.5 830v15M536.5 830v15M562.5 830v15M592.5 830v15M622.5 830v15M652.5 830v15M683.5 830v15M714.5 830v15M744.5 830v15M775.5 830v15M802.5 830v15M832.5 830v15M861.5 830v15M892.5 830v15M916.5 830v15M947.5 830v15M977.5 830v15M1007.5 830v15M1038.5 830v15M1067.5 830v15M1098.5 830v15M1128.5 830v15M1155.5 830v15M1186.5 830v15M1216.5 830v15M1243.5 830v15M1273.5 830v15M1303.5 830v15M1330.5 830v15M1363.5 830v15M1392.5 830v15M1421.5 830v15M1454.5 830v15M1483.5 830v15M1510.5 830v15M1542.5 830v15M1570.5 830v15M1599.5 830v15M1626.5 830v15"/>
</g>
<g class="ax"><text x="1719" y="20" letter-spacing="0.44">3410</text><text x="1719" y="46" letter-spacing="0.44">3320</text><text x="1719" y="72" letter-spacing="0.44">3231</text><text x="1719" y="99" letter-spacing="0.44">3141</text><text x="1719" y="125" letter-spacing="0.44">3051</text><text x="1719" y="151" letter-spacing="0.44">2961</text><text x="1719" y="177" letter-spacing="0.44">2872</text><text x="1719" y="203" letter-spacing="0.44">2782</text><text x="1719" y="229" letter-spacing="0.44">2692</text><text x="1719" y="256" letter-spacing="0.44">2602</text><text x="1719" y="282" letter-spacing="0.44">2512</text><text x="1719" y="308" letter-spacing="0.44">2423</text><text x="1719" y="334" letter-spacing="0.44">2333</text><text x="1719" y="360" letter-spacing="0.44">2243</text><text x="1719" y="386" letter-spacing="0.44">2153</text><text x="1719" y="413" letter-spacing="0.44">2064</text><text x="1719" y="439" letter-spacing="0.44">1974</text><text x="1719" y="465" letter-spacing="0.44">1884</text><text x="1719" y="491" letter-spacing="0.44">1794</text><text x="1719" y="517" letter-spacing="0.44">1704</text><text x="1719" y="543" letter-spacing="0.44">1615</text><text x="1719" y="570" letter-spacing="0.44">1525</text><text x="1719" y="596" letter-spacing="0.44">1435</text><text x="1719" y="622" letter-spacing="0.44">1345</text><text x="1719" y="648" letter-spacing="0.44">1255</text><text x="1719" y="674" letter-spacing="0.44">1166</text><text x="1719" y="700" letter-spacing="0.44">1076</text><text x="1719" y="727" letter-spacing="0.44">986</text><text x="1719" y="753" letter-spacing="0.44">896</text><text x="1719" y="779" letter-spacing="0.44">807</text><text x="1719" y="805" letter-spacing="0.44">717</text><text x="3" y="842">Oct</text><text x="35" y="842">Nov</text><text x="65" y="842">Dec</text><text x="94" y="842" letter-spacing="0.44">21</text><text x="123" y="842">Feb</text><text x="151" y="842">Mar</text><text x="183" y="842">Apr</text><text x="210" y="842">May</text><text x="239" y="842">Jun</text><text x="269" y="842">Jul</text><text x="301" y="842">Aug</text><text x="330" y="842">Sep</text><text x="360" y="842">Oct</text><text x="390" y="842">Nov</text><text x="420" y="842">Dec</text><text x="450" y="842" letter-spacing="0.44">22</text><text x="480" y="842">Feb</text><text x="508" y="842">Mar</text><text x="539" y="842">Apr</text><text x="565" y="842">May</text><text x="595" y="842">Jun</text><text x="625" y="842">Jul</text><text x="655" y="842">Aug</text><text x="686" y="842">Sep</text><text x="717" y="842">Oct</text><text x="747" y="842">Nov</text><text x="778" y="842">Dec</text><text x="805" y="842" letter-spacing="0.44">23</text><text x="835" y="842">Feb</text><text x="864" y="842">Mar</text><text x="895" y="842">Apr</text><text x="919" y="842">May</text><text x="950" y="842">Jun</text><text x="980" y="842">Jul</text><text x="1010" y="842">Aug</text><text x="1041" y="842">Sep</text><text x="1070" y="842">Oct</text><text x="1101" y="842">Nov</text><text x="1131" y="842">Dec</text><text x="1158" y="842" letter-spacing="0.44">24</text><text x="1189" y="842">Feb</text><text x="1219" y="842">Mar</text><text x="1246" y="842">Apr</text><text x="1276" y="842">May</text><text x="1306" y="842">Jun</text><text x="1333" y="842">Jul</text><text x="1366" y="842">Aug</text><text x="1395" y="842">Sep</text><text x="1424" y="842">Oct</text><text x="1457" y="842">Nov</text><text x="1486" y="842">Dec</text><text x="1513" y="842" letter-spacing="0.44">25</text><text x="1545" y="842">Feb</text><text x="1573" y="842">Mar</text><text x="1602" y="842">Apr</text><text x="1629" y="842">May</text></g>
<g class="lb"><text x="47" y="344">UNBUNDLING</text><text x="47" y="358" letter-spacing="0.12">OF BYTES ONTO</text><text x="47" y="372">THE LONDON</text><text x="47" y="386" letter-spacing="0.07">STOCK EXCHANGE</text><text x="531" y="606">DRIFTING SIDEWAYS</text><text x="531" y="620" letter-spacing="0.33">AND DOWNWARDS</text><text x="1067" y="648">ADDED</text><text x="1067" y="662" letter-spacing="0.44">TO WSL</text><text x="1067" y="676" letter-spacing="0.4">15-11-23</text><text x="1067" y="690" letter-spacing="0.53">AT 949c</text><text x="1415" y="623" letter-spacing="0.18">STRONG</text><text x="1415" y="637" letter-spacing="0.18">UPWARD</text><text x="1415" y="651" letter-spacing="-0.27">TREND</text></g>
</svg>
</body></html>
